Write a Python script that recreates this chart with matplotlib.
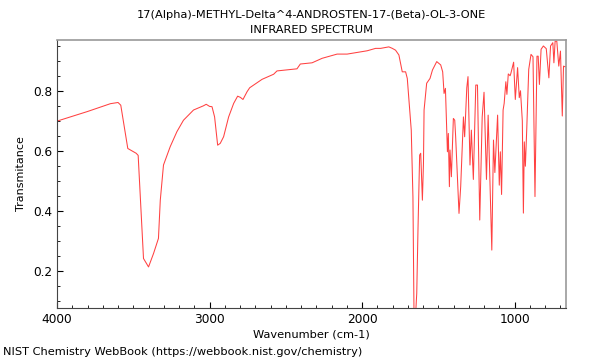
import numpy as np
import matplotlib
matplotlib.use('Agg')
import matplotlib.pyplot as plt
from matplotlib.ticker import MultipleLocator

# espectro (numero de onda cm-1, transmitancia)
numero_onda = [4000, 3800, 3650, 3600, 3582, 3536, 3481, 3468, 3433, 3400, 3367, 3335,
               3323, 3302, 3258, 3214, 3171, 3105, 3040, 3022, 3000, 2984, 2967, 2947,
               2930, 2908, 2875, 2842, 2816, 2798, 2781, 2754, 2737, 2711, 2656, 2580,
               2558, 2427, 2405, 2328, 2262, 2164, 2098, 1967, 1912, 1879, 1825, 1802,
               1781, 1759, 1737, 1715, 1704, 1693, 1678, 1667, 1660, 1649, 1642, 1634,
               1623, 1616, 1605, 1598, 1594, 1577, 1555, 1539, 1511, 1485, 1472, 1463,
               1454, 1441, 1435, 1428, 1424, 1415, 1402, 1393, 1387, 1380, 1365, 1354,
               1336, 1328, 1314, 1306, 1293, 1284, 1271, 1255, 1244, 1229, 1213, 1201,
               1185, 1174, 1150, 1139, 1130, 1112, 1101, 1094, 1086, 1076, 1069, 1058,
               1051, 1042, 1030, 1025, 1007, 996, 981, 970, 962, 950, 943, 937,
               930, 921, 908, 893, 880, 867, 854, 846, 838, 827, 812, 793,
               776, 765, 750, 743, 735, 724, 711, 700, 688, 680, 671, 665]
transmitancia = [0.699, 0.731, 0.757, 0.761, 0.752, 0.608, 0.592, 0.585, 0.242, 0.214, 0.259, 0.309,
                 0.436, 0.553, 0.614, 0.664, 0.702, 0.736, 0.750, 0.755, 0.748, 0.747, 0.713, 0.619,
                 0.625, 0.647, 0.713, 0.758, 0.782, 0.778, 0.771, 0.797, 0.810, 0.819, 0.838, 0.855,
                 0.866, 0.873, 0.889, 0.893, 0.908, 0.922, 0.922, 0.933, 0.941, 0.941, 0.946, 0.941,
                 0.935, 0.919, 0.863, 0.863, 0.841, 0.769, 0.669, 0.447, 0.060, 0.060, 0.126, 0.336,
                 0.586, 0.592, 0.436, 0.558, 0.736, 0.825, 0.841, 0.869, 0.897, 0.886, 0.863, 0.791,
                 0.808, 0.597, 0.658, 0.481, 0.603, 0.514, 0.708, 0.702, 0.647, 0.564, 0.392, 0.481,
                 0.713, 0.647, 0.810, 0.847, 0.553, 0.669, 0.505, 0.819, 0.819, 0.370, 0.713, 0.795,
                 0.505, 0.719, 0.270, 0.636, 0.528, 0.719, 0.486, 0.597, 0.455, 0.736, 0.758, 0.830,
                 0.788, 0.856, 0.850, 0.858, 0.895, 0.771, 0.877, 0.777, 0.800, 0.700, 0.393, 0.630,
                 0.549, 0.672, 0.871, 0.921, 0.913, 0.448, 0.915, 0.915, 0.821, 0.938, 0.949, 0.940,
                 0.843, 0.949, 0.960, 0.893, 0.965, 0.965, 0.882, 0.932, 0.716, 0.882, 0.880, 0.880]

titulo_1 = '17(Alpha)-METHYL-Delta^4-ANDROSTEN-17-(Beta)-OL-3-ONE'
titulo_2 = 'INFRARED SPECTRUM'
rodape = 'NIST Chemistry WebBook (https://webbook.nist.gov/chemistry)'

fig = plt.figure(figsize=(6, 3.6), dpi=100)
ax = fig.add_axes([0.095, 0.145, 0.848, 0.744])
ax.plot(numero_onda, transmitancia, color='#ff2020', linewidth=0.75, alpha=0.85)

ax.set_xlim(4000, 665)
ax.set_ylim(0.078, 0.969)
ax.set_xticks([4000, 3000, 2000, 1000])
ax.xaxis.set_minor_locator(MultipleLocator(100))
ax.set_yticks([0.2, 0.4, 0.6, 0.8])
ax.yaxis.set_minor_locator(MultipleLocator(0.05))
ax.tick_params(which='both', direction='in', labelsize=8.7, top=False, right=False)
ax.tick_params(which='major', length=4.5)
ax.tick_params(which='minor', length=2.5)

for lado in ['top', 'right']:
    ax.spines[lado].set_color('#999999')
    ax.spines[lado].set_linewidth(1.2)
for lado in ['left', 'bottom']:
    ax.spines[lado].set_color('#444444')

ax.set_xlabel('Wavenumber (cm-1)', fontsize=8.2, labelpad=3)
ax.set_ylabel('Transmitance', fontsize=8.0, labelpad=5)
centro = 0.095 + 0.848 / 2
fig.text(centro, 1 - 15 / 360, titulo_1, fontsize=8.2, ha='center', va='center')
fig.text(centro, 1 - 30 / 360, titulo_2, fontsize=8.2, ha='center', va='center')
fig.text(0.005, 0.022, rodape, fontsize=8.2, ha='left', va='center')

plt.savefig('out.png', dpi=100)
